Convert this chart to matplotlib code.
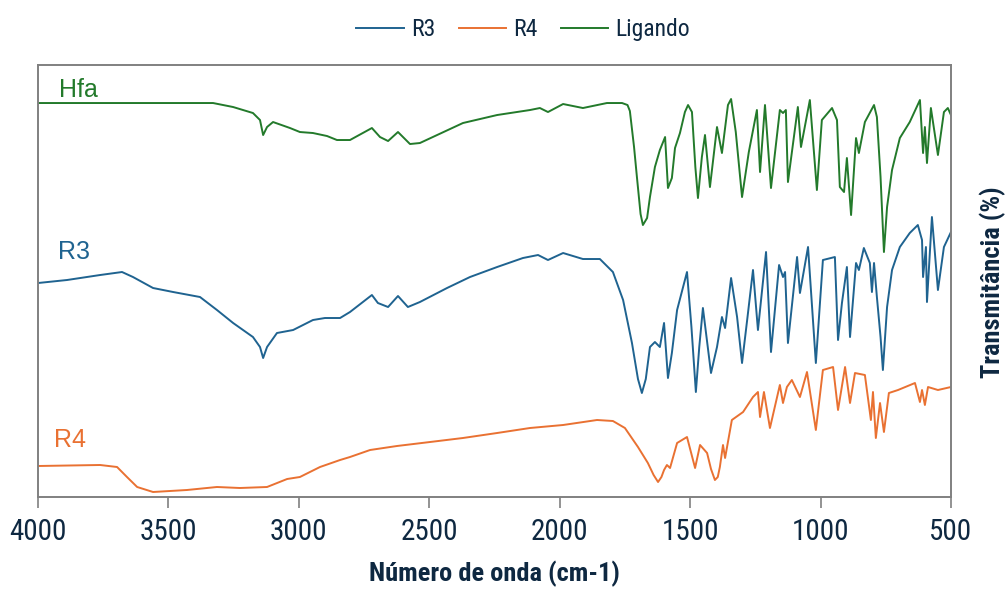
import matplotlib
matplotlib.use("Agg")
import matplotlib.pyplot as plt

# FTIR spectra: wavenumber (cm-1) and stacked transmittance (arbitrary offset units)
hfa_wn = [4000, 3329, 3252, 3176, 3149, 3137, 3122, 3099, 3034, 2996, 2946, 2892, 2854,
          2804, 2720, 2689, 2658, 2620, 2574, 2536, 2371, 2240, 2114, 2076, 2045, 1987,
          1911, 1819, 1761, 1740, 1731, 1715, 1704, 1690, 1681, 1665, 1654, 1635, 1616,
          1596, 1585, 1570, 1558, 1539, 1520, 1508, 1493, 1480, 1470, 1455, 1443, 1424,
          1397, 1378, 1355, 1343, 1325, 1301, 1275, 1244, 1232, 1213, 1190, 1156, 1144,
          1133, 1125, 1087, 1075, 1041, 1014, 995, 956, 937, 926, 910, 899, 883, 864, 853,
          830, 795, 784, 770, 757, 745, 726, 696, 658, 619, 607, 600, 592, 577, 550, 527,
          512, 500]
hfa_t = [394, 394, 390, 384, 377, 362, 370, 375, 369, 365, 364, 361, 357,
         357, 369, 360, 356, 365, 353, 354, 374, 382, 387, 389, 385, 393,
         389, 394, 394, 392, 386, 350, 320, 283, 272, 279, 300, 330, 347,
         360, 309, 319, 349, 364, 385, 392, 385, 330, 299, 340, 362, 310,
         370, 344, 392, 398, 365, 300, 345, 387, 325, 392, 309, 387, 384,
         387, 315, 390, 350, 397, 307, 377, 389, 377, 310, 305, 339, 282, 359, 344,
         375, 392, 380, 320, 245, 290, 327, 359, 375, 397, 344, 370, 334, 389, 342, 385,
         389, 382]

r3_wn = [4000, 3889, 3762, 3678, 3636, 3559, 3482, 3379, 3314, 3252, 3176, 3149, 3137,
         3122, 3084, 3022, 2946, 2900, 2842, 2804, 2720, 2697, 2658, 2620, 2582, 2536,
         2432, 2344, 2240, 2141, 2083, 2045, 1987, 1911, 1846, 1796, 1757, 1723, 1700,
         1685, 1670, 1654, 1635, 1616, 1600, 1585, 1570, 1550, 1512, 1495, 1478, 1465,
         1451, 1420, 1397, 1378, 1366, 1343, 1320, 1301, 1280, 1259, 1240, 1209, 1190,
         1159, 1144, 1136, 1125, 1090, 1079, 1048, 1018, 991, 945, 933, 918, 899, 887,
         864, 853, 834, 811, 803, 795, 784, 770, 761, 745, 726, 696, 658, 627, 611, 607,
         596, 592, 573, 550, 527, 500]
r3_t = [214, 217, 222, 225, 220, 209, 205, 200, 187, 174, 160, 150, 139,
        150, 164, 167, 177, 179, 179, 185, 202, 194, 190, 201, 190, 195,
        209, 220, 230, 239, 242, 237, 244, 238, 238, 225, 197, 154, 118,
        104, 118, 150, 155, 150, 174, 119, 144, 187, 225, 170, 105, 150,
        189, 124, 150, 180, 169, 219, 180, 134, 180, 227, 167, 245, 145,
        232, 220, 225, 154, 240, 204, 250, 134, 237, 240, 157, 194, 230, 160,
        234, 227, 249, 234, 205, 234, 200, 160, 127, 190, 227, 250, 264, 272, 257, 220,
        250, 195, 280, 207, 250, 265]

r4_wn = [4000, 3762, 3697, 3659, 3620, 3559, 3429, 3314, 3226, 3122, 3045, 2996, 2919,
         2842, 2804, 2727, 2624, 2497, 2371, 2240, 2114, 1987, 1857, 1796, 1750, 1700,
         1662, 1640, 1623, 1610, 1600, 1589, 1577, 1550, 1512, 1481, 1462, 1435, 1420,
         1405, 1394, 1386, 1374, 1366, 1340, 1297, 1259, 1240, 1232, 1217, 1194, 1156,
         1144, 1129, 1110, 1079, 1052, 1018, 991, 952, 933, 906, 887, 868, 830, 807, 799,
         788, 772, 757, 738, 703, 638, 619, 611, 600, 588, 550, 500]
r4_t = [31, 32, 30, 20, 10, 5, 7, 10, 9, 10, 18, 20, 30,
        37, 40, 47, 51, 55, 59, 64, 69, 72, 77, 76, 69, 50,
        34, 22, 15, 20, 27, 32, 29, 54, 60, 29, 52, 44, 28,
        17, 20, 30, 52, 39, 77, 85, 100, 105, 80, 105, 69, 112,
        94, 110, 117, 100, 125, 67, 127, 130, 87, 130, 94, 124, 122, 77, 105,
        59, 94, 65, 104, 107, 114, 95, 107, 92, 110, 107, 110]

x_ticks = [4000, 3500, 3000, 2500, 2000, 1500, 1000, 500]

blue = "#1f6390"
orange = "#e97132"
green = "#237a2b"
text_color = "#0e2841"
narrow = ["Roboto Condensed", "DejaVu Sans"]

fig = plt.figure(figsize=(10.06, 5.89), dpi=100)
ax = fig.add_axes([0.0378, 0.1562, 0.9075, 0.7334])

ax.plot(r3_wn, r3_t, color=blue, lw=1.4, label="R3")
ax.plot(r4_wn, r4_t, color=orange, lw=1.4, label="R4")
ax.plot(hfa_wn, hfa_t, color=green, lw=1.4, label="Ligando")

ax.set_xlim(4000, 500)
ax.set_ylim(0, 432)
ax.set_xticks(x_ticks)
ax.set_xticklabels([str(t) for t in x_ticks], family=narrow, fontsize=21, color=text_color)
ax.set_yticks([])
ax.tick_params(axis="x", direction="out", length=8, width=1.2, color="#808080", pad=7)
for s in ax.spines.values():
    s.set_color("#808080")
    s.set_linewidth(1.4)

# series names written next to each trace
ax.text(3918, 407, "Hfa", color=green, fontsize=18, va="center", family="Liberation Sans")
ax.text(3925, 245, "R3", color=blue, fontsize=18, va="center", family="Liberation Sans")
ax.text(3937, 57, "R4", color=orange, fontsize=18, va="center", family="Liberation Sans")

ax.set_xlabel("Número de onda (cm-1)", family=narrow, fontsize=19, fontweight="bold",
              color=text_color, labelpad=11)
fig.text(0.987, 0.521, "Transmitância (%)", rotation=90, ha="center", va="center",
         family=narrow, fontsize=19, fontweight="bold", color=text_color)

fig.legend(loc="upper center", bbox_to_anchor=(0.52, 1.005), ncol=3, frameon=False,
           handlelength=2.0, columnspacing=1.0, handletextpad=0.3,
           prop={"family": narrow, "size": 17}, labelcolor=text_color)

fig.savefig("out.png", dpi=100)
